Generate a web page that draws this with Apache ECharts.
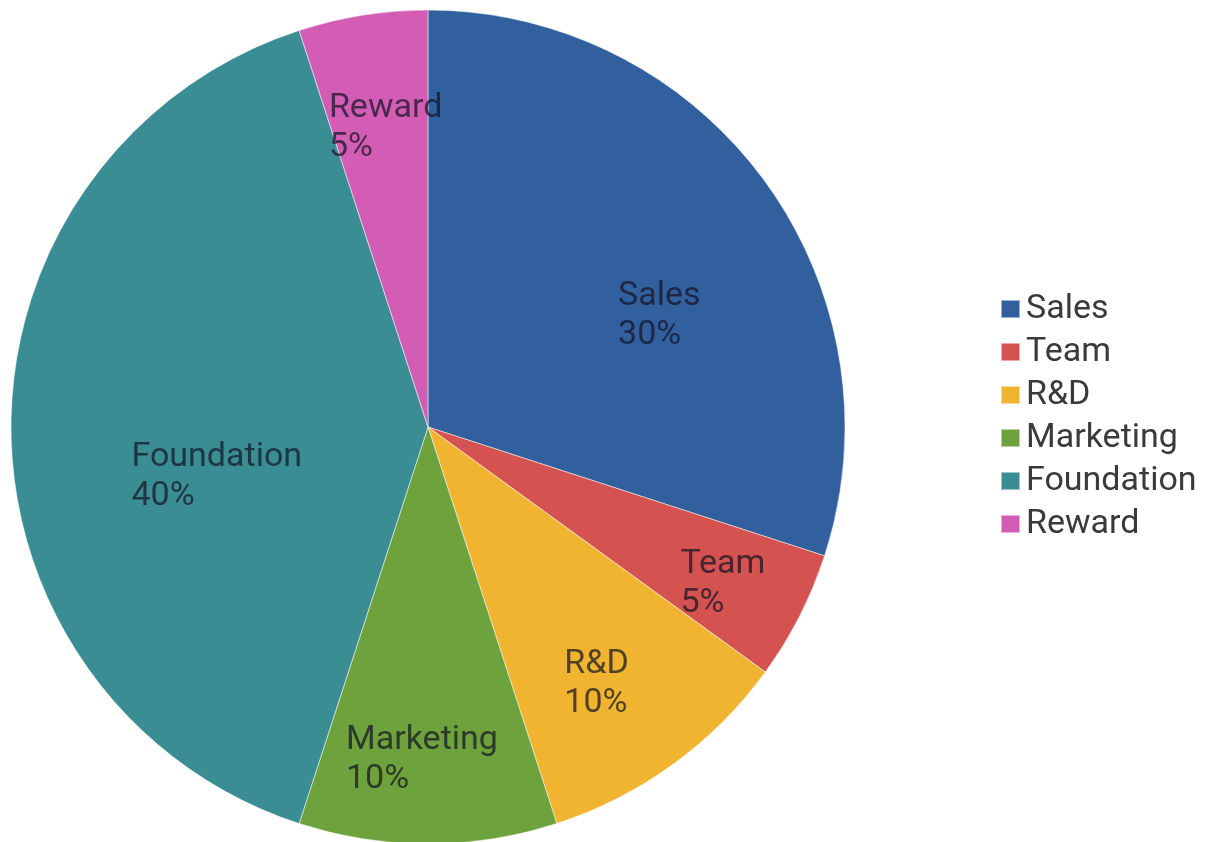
<!DOCTYPE html>
<html><head><meta charset="utf-8">
<script src="https://cdn.jsdelivr.net/npm/echarts@6/dist/echarts.min.js"></script>
<style>html,body{margin:0;padding:0;background:#fff}#c{width:1216px;height:842px}</style>
</head><body><div id="c"></div>
<script>
const categories = ['Sales', 'Team', 'R&D', 'Marketing', 'Foundation', 'Reward'];
const values = [30, 5, 10, 10, 40, 5];
const colors = ['#325F9E', '#D4524F', '#F0B431', '#6EA23C', '#3A8D93', '#D35DB5'];
const labelOffsets = [[89, 13], [134, 61], [82, 86], [-12, 121], [-15, 50], [4, -90]];
const LW = 140;

const chart = echarts.init(document.getElementById('c'));
chart.setOption({
  animation: false,
  color: colors,
  legend: {
    orient: 'vertical',
    left: 995,
    top: 287,
    itemWidth: 19,
    itemHeight: 18,
    itemGap: 9,
    icon: 'rect',
    textStyle: { fontFamily: 'Roboto', fontSize: 34, lineHeight: 34, color: '#3a3a3a', padding: [0, 0, 0, 1] },
    data: categories
  },
  series: [{
    type: 'pie',
    center: [428, 427],
    radius: 417,
    startAngle: 90,
    clockwise: true,
    itemStyle: { borderColor: 'rgba(255,255,255,0.5)', borderWidth: 1 },
    label: {
      show: true,
      position: 'inside',
      formatter: '{t|{b}}\n{t|{d}%}',
      rich: {
        t: {
          width: LW, align: 'left',
          fontFamily: 'Roboto', fontSize: 34, lineHeight: 39,
          color: 'rgba(20,20,35,0.72)'
        }
      }
    },
    labelLine: { show: false },
    data: categories.map((c, i) => ({
      name: c, value: values[i],
      label: { offset: labelOffsets[i] }
    }))
  }]
});
</script></body></html>
